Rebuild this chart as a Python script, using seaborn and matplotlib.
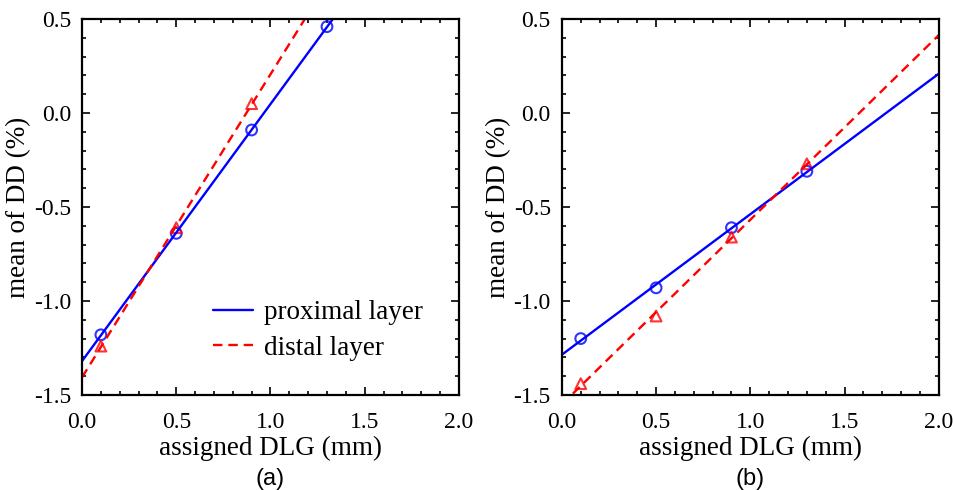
import numpy as np
import matplotlib
matplotlib.use("Agg")
import matplotlib.pyplot as plt
from matplotlib.lines import Line2D
from matplotlib.ticker import MultipleLocator, FormatStrFormatter
import seaborn as sns

sns.set_theme(style="ticks")
plt.rcParams["font.family"] = ["Liberation Serif", "DejaVu Serif"]
plt.rcParams["axes.unicode_minus"] = False
plt.rcParams["text.color"] = "black"
plt.rcParams["axes.labelcolor"] = "black"

# assigned DLG (mm)
dlg = [0.1, 0.5, 0.9, 1.3]

# panel (a): mean of DD (%)
a_proximal = [-1.18, -0.64, -0.09, 0.46]
a_distal_x = [0.1, 0.5, 0.9]
a_distal = [-1.24, -0.61, 0.05]

# panel (b)
b_proximal = [-1.20, -0.93, -0.61, -0.31]
b_distal = [-1.44, -1.08, -0.66, -0.27]

panels = [
    ("(a)", dlg, a_proximal, a_distal_x, a_distal),
    ("(b)", dlg, b_proximal, dlg, b_distal),
]

fig = plt.figure(figsize=(9.54, 4.9), dpi=100)
lefts = [0.086, 0.589]

for (tag, xp, yp, xd, yd), left in zip(panels, lefts):
    ax = fig.add_axes([left, 0.194, 0.395, 0.767])
    ax.set_xlim(0, 2)
    ax.set_ylim(-1.5, 0.5)
    sns.regplot(x=np.array(xp), y=np.array(yp), ax=ax, ci=None, truncate=False,
                marker="o", color="#0000ff",
                scatter_kws={"facecolors": "none", "s": 60, "linewidths": 1.5},
                line_kws={"lw": 1.7})
    sns.regplot(x=np.array(xd), y=np.array(yd), ax=ax, ci=None, truncate=False,
                marker="^", color="#ff0000",
                scatter_kws={"facecolors": "none", "s": 60, "linewidths": 1.5},
                line_kws={"lw": 1.7, "ls": (0, (4, 2.5))})
    ax.set_xlim(0, 2)
    ax.set_ylim(-1.5, 0.5)
    ax.xaxis.set_major_locator(MultipleLocator(0.5))
    ax.xaxis.set_minor_locator(MultipleLocator(0.1))
    ax.yaxis.set_major_locator(MultipleLocator(0.5))
    ax.yaxis.set_minor_locator(MultipleLocator(0.1))
    ax.xaxis.set_major_formatter(FormatStrFormatter("%.1f"))
    ax.yaxis.set_major_formatter(FormatStrFormatter("%.1f"))
    ax.tick_params(which="both", direction="in", top=True, right=True, colors="black",
                   labelsize=17, width=1.2)
    ax.tick_params(which="major", length=6)
    ax.tick_params(axis="x", which="major", pad=12)
    ax.tick_params(axis="y", which="major", pad=8)
    ax.tick_params(which="minor", length=3)
    for s in ax.spines.values():
        s.set_linewidth(1.6)
        s.set_color("black")
    ax.set_xlabel("assigned DLG (mm)", fontsize=19.5, labelpad=2)
    ax.set_ylabel("mean of DD (%)", fontsize=19.5, labelpad=1.5)
    fig.text(left + 0.395 / 2, 0.022, tag, ha="center", va="center",
             fontsize=17, family=["Liberation Sans", "DejaVu Sans"])
    if tag == "(a)":
        handles = [Line2D([], [], color="#0000ff", lw=1.7),
                   Line2D([], [], color="#ff0000", lw=1.7, ls=(0, (4, 2.5)))]
        ax.legend(handles, ["proximal layer", "distal layer"], loc="lower right",
                  bbox_to_anchor=(0.955, 0.04), frameon=False, fontsize=19.5,
                  handlelength=1.5, handletextpad=0.4, labelspacing=0.4,
                  borderpad=0.2)

fig.savefig("out.png", dpi=100)
